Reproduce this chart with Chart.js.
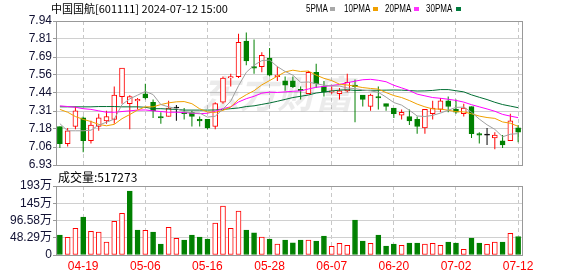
<!DOCTYPE html>
<html>
<head>
<meta charset="utf-8">
<script src="https://cdn.jsdelivr.net/npm/chart.js@4.4.1/dist/chart.umd.min.js"></script>
<style>
    html, body { margin: 0; padding: 0; background: #fff; }
    #wrap { position: relative; width: 578px; height: 276px; overflow: hidden; font-family: "Noto Sans CJK SC", sans-serif; }
    canvas { position: absolute; left: 0; }
    #priceChart { top: 0; }
    #volChart { top: 170px; }
    .txt { position: absolute; color: #000; white-space: nowrap; }
    .lg { position: absolute; top: 3px; font: 10px "Liberation Sans", sans-serif; line-height: 12px; transform: scaleX(0.8); transform-origin: left center; }
    .sw { position: absolute; top: 7px; width: 5px; height: 4px; }
</style>
</head>
<body>
<div id="wrap">
    <canvas id="priceChart" width="578" height="180"></canvas>
    <canvas id="volChart" width="578" height="106"></canvas>
    <div class="txt" style="left:51px; top:1px; font-size:11px; line-height:14px;">中国国航[601111] 2024-07-12 15:00</div>
    <div class="lg" style="left:306px">5PMA</div><div class="sw" style="left:330px; background:#a8a8a8"></div>
    <div class="lg" style="left:344px">10PMA</div><div class="sw" style="left:373px; background:#f0a000"></div>
    <div class="lg" style="left:385px">20PMA</div><div class="sw" style="left:414px; background:#ff33ff"></div>
    <div class="lg" style="left:426px">30PMA</div><div class="sw" style="left:456px; background:#007a3d"></div>
    <div class="txt" style="left:58px; top:170px; font-size:12px; line-height:14px;">成交量:517273</div>
</div>
<script>
// 交易日
const dates = [
    "04-16", "04-17", "04-18", "04-19", "04-22", "04-23", "04-24", "04-25", "04-26", "04-29", "04-30",
    "05-06", "05-07", "05-08", "05-09", "05-10", "05-13", "05-14", "05-15", "05-16", "05-17",
    "05-20", "05-21", "05-22", "05-23", "05-24", "05-27", "05-28", "05-29", "05-30", "05-31",
    "06-03", "06-04", "06-05", "06-06", "06-07", "06-11", "06-12", "06-13", "06-14",
    "06-17", "06-18", "06-19", "06-20", "06-21", "06-24", "06-25", "06-26", "06-27", "06-28",
    "07-01", "07-02", "07-03", "07-04", "07-05", "07-08", "07-09", "07-10", "07-11", "07-12",
];
const tickDates = ["04-19", "05-06", "05-16", "05-28", "06-07", "06-20", "07-02", "07-12"];

const opens = [
    7.20, 7.08, 7.20, 7.26, 7.10, 7.20, 7.24, 7.25, 7.41, 7.36, 7.38, 7.43, 7.37, 7.27, 7.27,
    7.33, 7.30, 7.30, 7.25, 7.25, 7.20, 7.37, 7.54, 7.55, 7.80, 7.62, 7.62, 7.68, 7.55, 7.52,
    7.52, 7.46, 7.43, 7.58, 7.48, 7.44, 7.43, 7.45, 7.49, 7.42, 7.34, 7.41, 7.36, 7.33, 7.28,
    7.27, 7.25, 7.19, 7.29, 7.32, 7.38, 7.32, 7.29, 7.34, 7.15, 7.14, 7.12, 7.10, 7.10, 7.19,
];
const highs = [
    7.20, 7.19, 7.34, 7.27, 7.24, 7.29, 7.31, 7.48, 7.61, 7.42, 7.40, 7.50, 7.39, 7.30, 7.38,
    7.35, 7.33, 7.31, 7.27, 7.25, 7.37, 7.55, 7.57, 7.85, 7.86, 7.81, 7.72, 7.75, 7.62, 7.55,
    7.55, 7.48, 7.59, 7.64, 7.52, 7.48, 7.47, 7.57, 7.53, 7.42, 7.43, 7.48, 7.36, 7.33, 7.32,
    7.32, 7.27, 7.32, 7.38, 7.40, 7.41, 7.39, 7.36, 7.34, 7.16, 7.19, 7.16, 7.14, 7.29, 7.21,
];
const lows = [
    7.05, 7.06, 7.18, 7.02, 7.08, 7.17, 7.22, 7.22, 7.36, 7.18, 7.32, 7.39, 7.26, 7.22, 7.27,
    7.24, 7.25, 7.20, 7.20, 7.18, 7.18, 7.36, 7.48, 7.54, 7.63, 7.57, 7.58, 7.55, 7.52, 7.45,
    7.47, 7.39, 7.43, 7.47, 7.41, 7.43, 7.39, 7.44, 7.23, 7.34, 7.31, 7.32, 7.31, 7.26, 7.25,
    7.21, 7.15, 7.15, 7.25, 7.30, 7.30, 7.29, 7.27, 7.12, 7.08, 7.07, 7.04, 7.05, 7.10, 7.09,
];
const closes = [
    7.08, 7.17, 7.31, 7.10, 7.21, 7.26, 7.27, 7.42, 7.61, 7.41, 7.39, 7.40, 7.31, 7.26, 7.33,
    7.33, 7.29, 7.27, 7.24, 7.19, 7.36, 7.54, 7.55, 7.79, 7.66, 7.61, 7.70, 7.56, 7.56, 7.49,
    7.48, 7.45, 7.58, 7.50, 7.44, 7.45, 7.45, 7.51, 7.48, 7.39, 7.42, 7.40, 7.34, 7.29, 7.30,
    7.24, 7.20, 7.32, 7.33, 7.38, 7.34, 7.30, 7.33, 7.15, 7.14, 7.14, 7.14, 7.07, 7.24, 7.16,
];

const ma5 = [
    7.22, 7.17, 7.17, 7.17, 7.174, 7.21, 7.23, 7.252, 7.354, 7.394, 7.42, 7.446, 7.424, 7.354, 7.338,
    7.326, 7.304, 7.296, 7.294, 7.266, 7.272, 7.322, 7.378, 7.486, 7.58, 7.63, 7.662, 7.666, 7.62, 7.586,
    7.56, 7.51, 7.512, 7.50, 7.49, 7.484, 7.484, 7.47, 7.466, 7.456, 7.45, 7.44, 7.406, 7.368, 7.35,
    7.314, 7.274, 7.27, 7.278, 7.294, 7.314, 7.334, 7.336, 7.30, 7.252, 7.212, 7.18, 7.128, 7.146, 7.15,
];
const ma10 = [
    7.32, 7.30, 7.27, 7.25, 7.235, 7.215, 7.205, 7.215, 7.255, 7.284, 7.315, 7.338, 7.338, 7.354, 7.366,
    7.373, 7.375, 7.36, 7.324, 7.302, 7.299, 7.313, 7.337, 7.39, 7.423, 7.451, 7.492, 7.522, 7.553, 7.583,
    7.595, 7.586, 7.589, 7.56, 7.538, 7.522, 7.497, 7.491, 7.483, 7.473, 7.467, 7.462, 7.438, 7.417, 7.403,
    7.382, 7.357, 7.338, 7.323, 7.322, 7.314, 7.304, 7.303, 7.289, 7.273, 7.263, 7.257, 7.232, 7.223, 7.201,
];
const ma20 = [
    7.345, 7.34, 7.335, 7.325, 7.32, 7.31, 7.30, 7.30, 7.305, 7.31, 7.315, 7.316, 7.31, 7.305, 7.30,
    7.30, 7.298, 7.293, 7.29, 7.293, 7.307, 7.326, 7.338, 7.372, 7.395, 7.412, 7.434, 7.441, 7.439, 7.443,
    7.447, 7.45, 7.463, 7.475, 7.481, 7.487, 7.495, 7.507, 7.518, 7.528, 7.531, 7.524, 7.514, 7.489, 7.471,
    7.452, 7.427, 7.415, 7.403, 7.398, 7.391, 7.383, 7.371, 7.353, 7.338, 7.323, 7.307, 7.285, 7.273, 7.262,
];
const ma30 = [
    7.338, 7.338, 7.338, 7.338, 7.338, 7.34, 7.34, 7.34, 7.338, 7.338, 7.338, 7.335, 7.325, 7.325, 7.322,
    7.32, 7.315, 7.315, 7.315, 7.315, 7.316, 7.32, 7.325, 7.33, 7.34, 7.345, 7.355, 7.365, 7.377, 7.39,
    7.403, 7.412, 7.421, 7.435, 7.442, 7.449, 7.455, 7.458, 7.453, 7.453, 7.454, 7.454, 7.455, 7.456, 7.455,
    7.452, 7.449, 7.45, 7.453, 7.459, 7.459, 7.451, 7.443, 7.422, 7.405, 7.389, 7.37, 7.354, 7.343, 7.332,
];

// 成交量(万)
const volumes = [
    55.8, 49.3, 74.4, 106, 66, 64, 36.3, 94, 117, 178.6, 69.8, 68.8, 64.2, 30.7, 77.2,
    46.5, 41.9, 55.8, 50.2, 44.6, 89.3, 136.7, 74.4, 122.8, 69.8, 62.3, 50.2, 44.6, 30.7, 41.9,
    34.4, 41.9, 41.9, 39, 53, 24.2, 32.6, 27, 97.7, 39, 32.6, 55.8, 25.1, 30.7, 27,
    33.5, 33.5, 30.7, 32.6, 27, 36.3, 33.5, 15.8, 47.4, 33.5, 29.8, 36.3, 36.3, 60.5, 51.73,
];

const priceTickLabels = ["6.93", "7.06", "7.18", "7.31", "7.44", "7.56", "7.69", "7.81", "7.94"];
const volTickLabels = ["0", "48.29万", "96.58万", "145万", "193万"];
const priceMin = 6.93;
const priceMax = 7.94;
const volMax = 193.16;

const RED = "#ff0000";
const GREEN = "#008000";
const GRID = "#d0d0d0";
const AXIS_TEXT = "#111133";
const tickFont = { family: '"Liberation Sans", "Noto Sans CJK SC", sans-serif', size: 12 };

function candleColor(i) {
    if (closes[i] > opens[i]) return RED;
    if (closes[i] < opens[i]) return GREEN;
    return "#000000";
}
function candleFill(i) {
    return closes[i] > opens[i] ? "#ffffff" : candleColor(i);
}
function volUp(i) {
    if (i === 0) return closes[0] >= opens[0];
    return closes[i] >= closes[i - 1];
}
function isTickDate(i) {
    return tickDates.includes(dates[i]);
}

// cadre gris autour de la zone de tracé
const framePlugin = {
    id: "frame",
    afterDatasetsDraw(chart) {
        const { ctx, chartArea: a } = chart;
        ctx.save();
        ctx.strokeStyle = "#999999";
        ctx.lineWidth = 1;
        ctx.strokeRect(a.left + 0.5, a.top + 0.5, a.right - a.left, a.bottom - a.top);
        ctx.restore();
    },
};

const watermarkPlugin = {
    id: "watermark",
    beforeDatasetsDraw(chart) {
        const { ctx } = chart;
        ctx.save();
        ctx.font = 'italic bold 38px "Noto Sans CJK SC"';
        ctx.fillStyle = "rgba(0,0,0,0.08)";
        ctx.textAlign = "center";
        ctx.textBaseline = "middle";
        ctx.fillText("东方财富", 277, 94);
        ctx.restore();
    },
};

function xGrid() {
    return {
        offset: false,
        drawTicks: false,
        color: (c) => (isTickDate(c.index) ? "#c8c8c8" : "rgba(0,0,0,0)"),
    };
}

const maLine = (data, color) => ({
    type: "line",
    data: data,
    borderColor: color,
    borderWidth: 1,
    pointRadius: 0,
    tension: 0,
    order: 1,
});

new Chart(document.getElementById("priceChart"), {
    type: "bar",
    data: {
        labels: dates,
        datasets: [
            maLine(ma5, "#a0a0a0"),
            maLine(ma10, "#f0a000"),
            maLine(ma20, "#ff00ff"),
            maLine(ma30, "#006e33"),
            {
                data: opens.map((o, i) => [o, closes[i]]),
                barThickness: 5,
                backgroundColor: (c) => candleFill(c.dataIndex),
                borderColor: (c) => candleColor(c.dataIndex),
                borderWidth: 1,
                borderSkipped: false,
                minBarLength: 1,
                grouped: false,
                order: 2,
            },
            {
                data: lows.map((l, i) => [l, highs[i]]),
                barThickness: 1,
                backgroundColor: (c) => candleColor(c.dataIndex),
                borderWidth: 0,
                inflateAmount: 0,
                grouped: false,
                order: 3,
            },
        ],
    },
    options: {
        responsive: false,
        animation: false,
        events: [],
        layout: { padding: { top: 21, right: 56, bottom: 15, left: 0 } },
        plugins: { legend: { display: false }, tooltip: { enabled: false } },
        scales: {
            x: {
                offset: true,
                grid: xGrid(),
                border: { display: false, dash: [4, 3] },
                ticks: { display: false, autoSkip: false },
                afterFit: (s) => { s.height = 0; },
            },
            y: {
                min: priceMin,
                max: priceMax,
                grid: { color: GRID, tickLength: 3, tickColor: "#999999" },
                border: { display: false },
                ticks: {
                    font: tickFont,
                    color: AXIS_TEXT,
                    padding: 1,
                    autoSkip: false,
                    callback: (v, i) => priceTickLabels[i],
                },
                afterBuildTicks: (s) => {
                    s.ticks = priceTickLabels.map((_, i) => ({
                        value: priceMin + (i * (priceMax - priceMin)) / (priceTickLabels.length - 1),
                    }));
                },
                afterFit: (s) => { s.width = 56; },
            },
        },
    },
    plugins: [watermarkPlugin, framePlugin],
});

new Chart(document.getElementById("volChart"), {
    type: "bar",
    data: {
        labels: dates,
        datasets: [
            {
                data: volumes,
                barThickness: 5,
                backgroundColor: (c) => (volUp(c.dataIndex) ? "#ffffff" : GREEN),
                borderColor: (c) => (volUp(c.dataIndex) ? RED : GREEN),
                borderWidth: 1,
                borderSkipped: false,
                grouped: false,
            },
        ],
    },
    options: {
        responsive: false,
        animation: false,
        events: [],
        layout: { padding: { top: 16, right: 56, bottom: 0, left: 0 } },
        plugins: { legend: { display: false }, tooltip: { enabled: false } },
        scales: {
            x: {
                offset: true,
                grid: xGrid(),
                border: { display: false, dash: [4, 3] },
                ticks: {
                    autoSkip: false,
                    maxRotation: 0,
                    padding: 4,
                    color: RED,
                    font: { family: '"Liberation Sans", sans-serif', size: 12 },
                    callback: (v, i) => (isTickDate(i) ? dates[i] : ""),
                },
                afterFit: (s) => { s.height = 21; },
            },
            y: {
                min: 0,
                max: volMax,
                grid: { color: GRID, tickLength: 3, tickColor: "#999999" },
                border: { display: false },
                ticks: {
                    font: tickFont,
                    color: AXIS_TEXT,
                    padding: 1,
                    autoSkip: false,
                    callback: (v, i) => volTickLabels[i],
                },
                afterBuildTicks: (s) => {
                    s.ticks = volTickLabels.map((_, i) => ({ value: (i * volMax) / (volTickLabels.length - 1) }));
                },
                afterFit: (s) => { s.width = 56; },
            },
        },
    },
    plugins: [framePlugin],
});
</script>
</body>
</html>
